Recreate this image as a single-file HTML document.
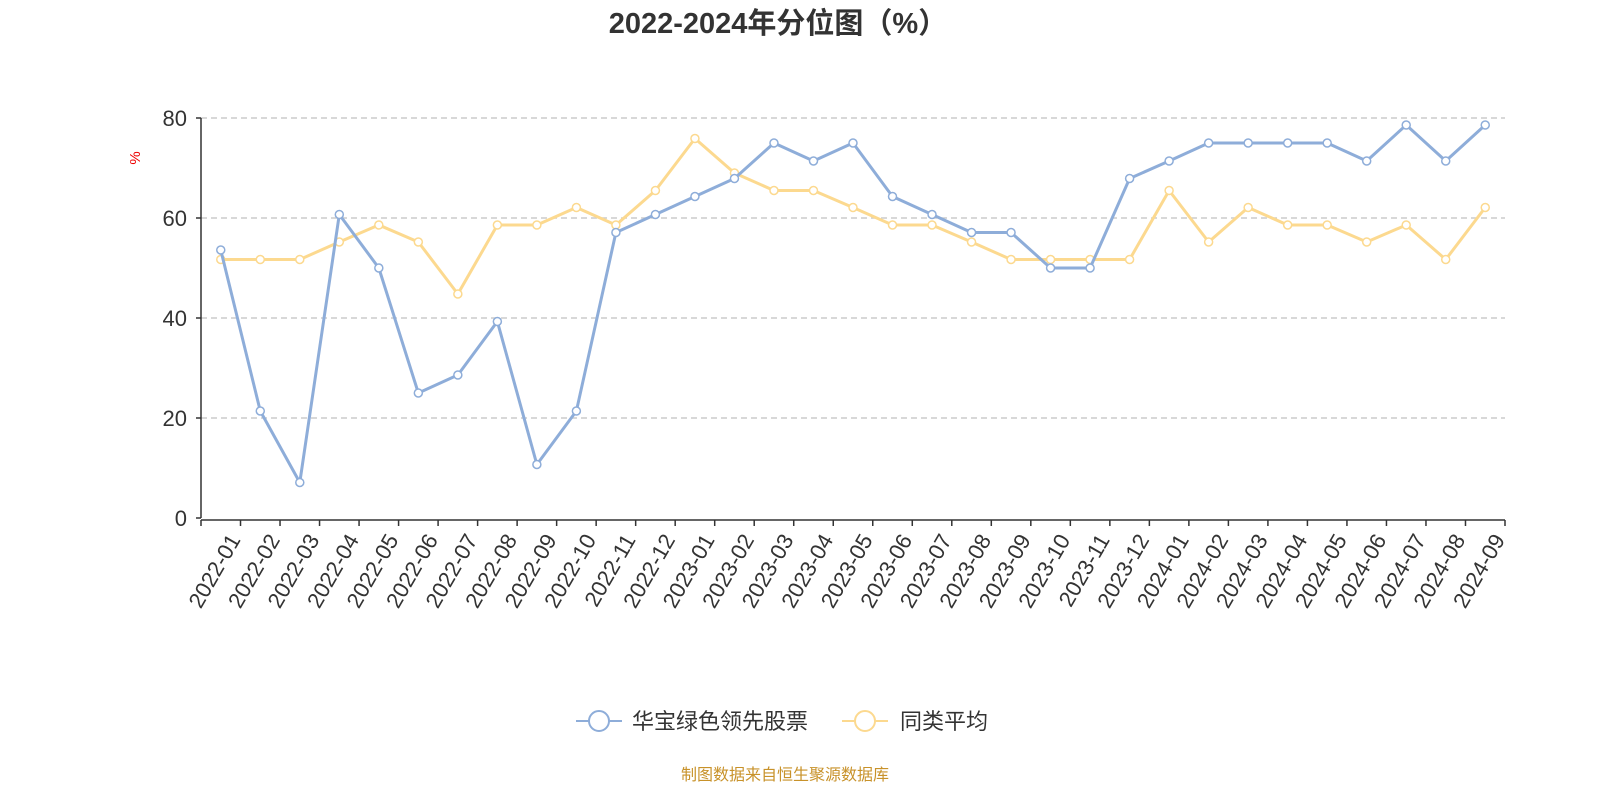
<!DOCTYPE html>
<html><head><meta charset="utf-8"><style>
html,body{margin:0;padding:0;background:#fff;}
svg text{font-family:"Liberation Sans","Noto Sans CJK SC",sans-serif;}
</style></head><body>
<svg id="chart" width="1600" height="800" viewBox="0 0 1600 800" xmlns="http://www.w3.org/2000/svg">
<text x="778" y="33" text-anchor="middle" font-size="29" font-weight="bold" fill="#333">2022-2024年分位图（%）</text>
<text x="140" y="158" font-size="15" fill="#e00" transform="rotate(-90 140 158)" text-anchor="middle">%</text>
<g id="grid"></g><g id="axes"></g><g id="series"></g>
<g>
<g>
<line x1="576" y1="721" x2="622" y2="721" stroke="#8eadd9" stroke-width="2"/>
<circle cx="599" cy="721" r="10" fill="#fff" stroke="#8eadd9" stroke-width="2"/>
<text x="632" y="729" font-size="22" fill="#333">华宝绿色领先股票</text></g>
<g>
<line x1="842" y1="721" x2="888" y2="721" stroke="#fcd98f" stroke-width="2"/>
<circle cx="865" cy="721" r="10" fill="#fff" stroke="#fcd98f" stroke-width="2"/>
<text x="900" y="729" font-size="22" fill="#333">同类平均</text></g>
</g>
<text x="785" y="780" text-anchor="middle" font-size="16" fill="#c8922a">制图数据来自恒生聚源数据库</text>
</svg>
<script>
const categories=["2022-01","2022-02","2022-03","2022-04","2022-05","2022-06","2022-07","2022-08","2022-09","2022-10","2022-11","2022-12","2023-01","2023-02","2023-03","2023-04","2023-05","2023-06","2023-07","2023-08","2023-09","2023-10","2023-11","2023-12","2024-01","2024-02","2024-03","2024-04","2024-05","2024-06","2024-07","2024-08","2024-09"];
const fundValues=[53.6,21.4,7.1,60.7,50,25,28.6,39.3,10.7,21.4,57.1,60.7,64.3,67.9,75,71.4,75,64.3,60.7,57.1,57.1,50,50,67.9,71.4,75,75,75,75,71.4,78.6,71.4,78.6];
const peerValues=[51.7,51.7,51.7,55.2,58.6,55.2,44.8,58.6,58.6,62.1,58.6,65.5,75.9,69,65.5,65.5,62.1,58.6,58.6,55.2,51.7,51.7,51.7,51.7,65.5,55.2,62.1,58.6,58.6,55.2,58.6,51.7,62.1];
const yTicks=[0,20,40,60,80];
const NS="http://www.w3.org/2000/svg";
const X0=201,X1=1505,Y0=518,Y1=118,YMAX=80;
const band=(X1-X0)/categories.length;
const xs=i=>X0+band*(i+0.5);
const ys=v=>Y0-(v/YMAX)*(Y0-Y1);
function mk(t,a,p){const e=document.createElementNS(NS,t);for(const k in a)e.setAttribute(k,a[k]);p.appendChild(e);return e;}
const grid=document.getElementById('grid'),axes=document.getElementById('axes'),series=document.getElementById('series');
yTicks.forEach(v=>{
 if(v>0){const g=mk('line',{x1:X0,x2:X1,y1:ys(v),y2:ys(v),stroke:'#ccc','stroke-width':1.5,'stroke-dasharray':'6,4'},grid);
 
 }
 const t=mk('text',{x:X0-14,y:ys(v)+8,'text-anchor':'end','font-size':22,fill:'#333'},axes);t.textContent=v;
 
 
 mk('line',{x1:X0-5,x2:X0,y1:ys(v),y2:ys(v),stroke:'#333','stroke-width':1.5},axes);
});
const ya=mk('line',{x1:X0,x2:X0,y1:Y1,y2:Y0,stroke:'#333','stroke-width':1.5},axes);


const xa=mk('line',{x1:X0,x2:X1,y1:Y0+2,y2:Y0+2,stroke:'#333','stroke-width':1.5},axes);


for(let i=0;i<=categories.length;i++){const x=X0+band*i;mk('line',{x1:x,x2:x,y1:Y0+2,y2:Y0+8,stroke:'#333','stroke-width':1.5},axes);}
categories.forEach((c,i)=>{
 const x=xs(i)+7,y=Y0+14;
 const t=mk('text',{x:x,y:y,'text-anchor':'end','font-size':22,fill:'#333',transform:`rotate(-60 ${x} ${y})`,dy:'0.7em'},axes);
 t.textContent=c;
 
 
});
function drawSeries(vals,color,name){
 const p=mk('polyline',{points:vals.map((v,i)=>xs(i)+','+ys(v)).join(' '),fill:'none',stroke:color,'stroke-width':3,'stroke-linejoin':'round'},series);
 
 
 vals.forEach((v,i)=>{
  const c=mk('circle',{cx:xs(i),cy:ys(v),r:4,fill:'#fff',stroke:color,'stroke-width':1.5},series);
  
  
 });
}
drawSeries(peerValues,'#fcd98f','peer-average');
drawSeries(fundValues,'#8eadd9','fund');
</script>
</body></html>
